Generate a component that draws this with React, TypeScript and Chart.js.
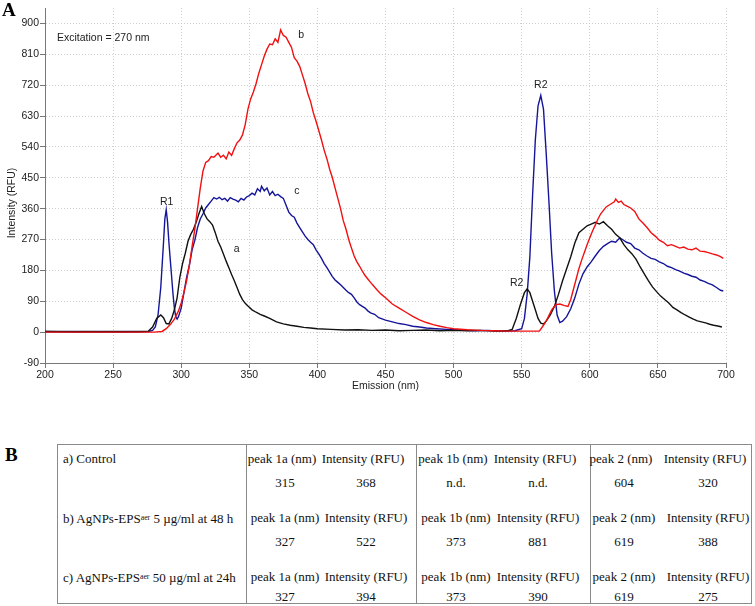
import React, { useEffect, useRef } from "react";
import { Chart, registerables } from "chart.js";
Chart.register(...registerables);

// ---------- chart data ----------
const X_TICKS = [200, 250, 300, 350, 400, 450, 500, 550, 600, 650, 700];
const Y_TICKS = [-90, 0, 90, 180, 270, 360, 450, 540, 630, 720, 810, 900];

// a) Control (black) : [emission nm, intensity RFU]
const curveA: [number, number][] = [
  [200, 2], [210, 2], [220, 1], [230, 2], [240, 1], [250, 2], [260, 1], [270, 2], [276, 3], [279, 15],
  [282, 40], [285, 50], [287, 42], [289, 25], [291, 24], [293, 40], [295, 65], [297, 100], [299, 160],
  [301, 200], [303, 230], [305, 265], [307, 285], [309, 300], [311, 320], [313, 345], [315, 366],
  [317, 345], [319, 330], [321, 322], [323, 312], [325, 290], [327, 265], [329, 248], [331, 228],
  [333, 207], [335, 188], [337, 168], [339, 150], [341, 130], [343, 110], [345, 95], [347, 84],
  [349, 76], [352, 65], [355, 58], [358, 52], [361, 47], [365, 40], [370, 30], [375, 24], [380, 20],
  [385, 17], [390, 14], [395, 12], [400, 10], [410, 8], [420, 6], [430, 7], [440, 5], [450, 6],
  [460, 4], [470, 5], [480, 6], [490, 4], [500, 5], [510, 4], [520, 5], [530, 3], [540, 4], [543, 8],
  [546, 40], [549, 80], [552, 115], [554, 126], [556, 115], [558, 90], [560, 65], [562, 40], [564, 26],
  [566, 24], [568, 32], [571, 50], [574, 75], [577, 110], [580, 150], [583, 185], [586, 220],
  [589, 260], [592, 290], [595, 300], [598, 310], [601, 315], [604, 320], [607, 315], [610, 322],
  [613, 310], [616, 300], [619, 285], [622, 275], [625, 255], [628, 240], [631, 228], [634, 212],
  [637, 190], [640, 170], [643, 150], [646, 132], [649, 118], [652, 105], [655, 95], [658, 85],
  [661, 72], [664, 65], [667, 57], [670, 50], [673, 44], [676, 38], [679, 33], [682, 30], [685, 27],
  [688, 23], [691, 20], [694, 18], [697, 15],
];

// b) AgNPs-EPSaer 5 µg/ml at 48 h (red)
const curveB: [number, number][] = [
  [200, 0], [220, 0], [240, 0], [260, 0], [280, 0], [286, 2], [289, 10], [292, 22], [295, 38],
  [298, 62], [300, 85], [302, 115], [304, 150], [306, 195], [308, 250], [310, 300], [312, 360],
  [314, 420], [316, 470], [318, 495], [320, 500], [322, 512], [324, 510], [326, 518], [327, 522],
  [329, 510], [331, 516], [333, 505], [335, 525], [337, 515], [339, 535], [341, 552], [343, 560],
  [345, 575], [347, 605], [349, 650], [351, 680], [353, 700], [355, 725], [357, 755], [359, 780],
  [361, 805], [363, 825], [365, 840], [367, 838], [369, 855], [371, 845], [373, 881], [375, 865],
  [377, 860], [379, 845], [381, 830], [383, 800], [385, 790], [387, 775], [389, 750], [391, 725],
  [393, 695], [395, 672], [397, 640], [399, 615], [401, 588], [403, 560], [405, 530], [407, 505],
  [409, 475], [411, 450], [413, 420], [415, 390], [417, 360], [419, 325], [421, 300], [423, 270],
  [425, 245], [427, 222], [429, 205], [431, 192], [433, 178], [435, 165], [437, 155], [439, 145],
  [441, 136], [444, 122], [447, 110], [450, 100], [455, 82], [460, 70], [465, 58], [470, 46],
  [475, 36], [480, 28], [485, 22], [490, 17], [495, 13], [500, 10], [510, 7], [520, 5], [530, 4],
  [540, 3], [550, 3], [560, 3], [563, 3], [566, 20], [569, 40], [572, 65], [575, 80], [578, 82],
  [581, 78], [584, 75], [586, 95], [588, 125], [590, 155], [592, 185], [594, 210], [596, 232],
  [598, 255], [600, 275], [602, 295], [604, 312], [606, 330], [608, 345], [610, 355], [612, 365],
  [614, 370], [616, 375], [618, 380], [619, 388], [621, 378], [623, 382], [625, 372], [627, 368],
  [630, 362], [633, 352], [636, 330], [639, 318], [642, 305], [645, 290], [648, 280], [651, 268],
  [654, 262], [657, 252], [660, 255], [663, 250], [666, 245], [669, 248], [672, 242], [675, 240],
  [678, 245], [681, 236], [684, 235], [687, 232], [690, 228], [693, 225], [696, 220], [698, 215],
];

// c) AgNPs-EPSaer 50 µg/ml at 24h (blue)
const curveC: [number, number][] = [
  [200, 2], [210, 1], [220, 2], [230, 1], [240, 2], [250, 1], [260, 2], [270, 1], [276, 2], [279, 5],
  [281, 15], [283, 50], [285, 130], [287, 260], [288, 330], [289, 357], [290, 320], [291, 260],
  [292, 210], [293, 160], [294, 110], [295, 70], [296, 45], [297, 38], [298, 45], [300, 70],
  [302, 115], [304, 160], [306, 195], [308, 240], [310, 268], [312, 305], [314, 330], [316, 345],
  [318, 362], [320, 372], [322, 382], [324, 392], [326, 388], [328, 393], [330, 386], [332, 390],
  [334, 382], [336, 392], [338, 388], [340, 385], [342, 380], [344, 390], [346, 385], [348, 394],
  [350, 398], [352, 405], [354, 400], [356, 418], [358, 410], [359, 425], [361, 412], [363, 420],
  [365, 400], [367, 410], [369, 398], [371, 402], [373, 395], [375, 390], [377, 370], [379, 350],
  [381, 340], [383, 335], [385, 318], [387, 305], [389, 292], [391, 280], [393, 270], [395, 262],
  [397, 255], [399, 240], [401, 228], [403, 215], [405, 200], [407, 188], [409, 175], [411, 162],
  [413, 152], [415, 145], [417, 138], [419, 130], [421, 122], [423, 115], [425, 110], [427, 100],
  [429, 88], [431, 80], [433, 75], [435, 70], [437, 62], [439, 56], [442, 52], [445, 42], [450, 35],
  [455, 30], [460, 25], [465, 22], [470, 17], [475, 15], [480, 12], [487, 10], [495, 8], [505, 6],
  [515, 4], [525, 5], [535, 3], [545, 4], [550, 10], [552, 40], [554, 110], [556, 220], [558, 400],
  [560, 560], [562, 660], [564, 690], [566, 650], [568, 520], [570, 380], [572, 230], [574, 120],
  [576, 50], [578, 28], [580, 32], [583, 45], [586, 68], [589, 100], [592, 140], [595, 170],
  [598, 190], [601, 205], [604, 222], [607, 238], [610, 250], [613, 258], [616, 265], [619, 262],
  [622, 275], [624, 270], [627, 262], [630, 258], [633, 245], [636, 240], [639, 230], [642, 222],
  [645, 215], [648, 212], [651, 205], [654, 200], [657, 192], [660, 188], [663, 182], [666, 178],
  [669, 172], [672, 168], [675, 163], [678, 160], [681, 152], [684, 148], [687, 142], [690, 138],
  [693, 130], [696, 122], [698, 120],
];

// text annotations inside the plot (data coordinates)
const NOTE_TEXT = ["Excitation = 270 nm", "b", "c", "a", "R1", "R2", "R2"];
const NOTE_X = [208.8, 388, 385, 340.7, 289.3, 564, 546.3];
const NOTE_Y = [858, 867, 411, 243, 379, 720, 143];
const NOTE_ALIGN = ["left", "center", "center", "center", "center", "center", "center"];

// ---------- table data ----------
const ROW_LABELS = ["a) Control", "b) AgNPs-EPS|aer| 5 µg/ml at 48 h", "c) AgNPs-EPS|aer| 50 µg/ml at 24h"];
const HEADERS = ["peak 1a (nm)", "Intensity (RFU)", "peak 1b (nm)", "Intensity (RFU)", "peak 2 (nm)", "Intensity (RFU)"];
const ROW_VALUES = [
  ["315", "368", "n.d.", "n.d.", "604", "320"],
  ["327", "522", "373", "881", "619", "388"],
  ["327", "394", "373", "390", "619", "275"],
];

const SANS = '"Liberation Sans", Arial, sans-serif';
const SERIF = '"Liberation Serif", "Times New Roman", serif';

const toXY = (arr: [number, number][]) => arr.map(([x, y]) => ({ x, y }));

function ChartA() {
  const ref = useRef<HTMLCanvasElement | null>(null);
  useEffect(() => {
    if (!ref.current) return;
    const notes = {
      id: "notes",
      afterDatasetsDraw(chart: any) {
        const { ctx } = chart;
        const xs = chart.scales.x;
        const ys = chart.scales.y;
        ctx.save();
        ctx.font = `10.5px ${SANS}`;
        ctx.fillStyle = "#222";
        ctx.textBaseline = "middle";
        NOTE_TEXT.forEach((t, i) => {
          ctx.textAlign = NOTE_ALIGN[i] as CanvasTextAlign;
          ctx.fillText(t, xs.getPixelForValue(NOTE_X[i]), ys.getPixelForValue(NOTE_Y[i]));
        });
        ctx.translate(12, 203);
        ctx.rotate(-Math.PI / 2);
        ctx.textAlign = "center";
        ctx.fillText("Intensity (RFU)", 0, 0);
        ctx.restore();
      },
    };
    const line = (data: [number, number][], color: string) => ({
      data: toXY(data),
      borderColor: color,
      backgroundColor: color,
      borderWidth: 1.4,
      pointRadius: 0,
      tension: 0,
      fill: false,
    });
    const chart = new Chart(ref.current, {
      type: "line",
      data: {
        datasets: [line(curveB, "#f01010"), line(curveA, "#111111"), line(curveC, "#15159a")],
      },
      options: {
        animation: false,
        responsive: false,
        devicePixelRatio: 1,
        layout: { padding: { left: 0, right: 29, top: 8, bottom: 0 } },
        plugins: { legend: { display: false }, tooltip: { enabled: false } },
        scales: {
          x: {
            type: "linear",
            min: 200,
            max: 700,
            afterBuildTicks: (s: any) => {
              s.ticks = X_TICKS.map((v) => ({ value: v }));
            },
            afterFit: (s: any) => {
              s.height = 37;
            },
            ticks: { color: "#222", font: { family: SANS, size: 10.5 }, padding: 1, maxRotation: 0 },
            grid: { color: "#cfcfcf", tickColor: "#777", tickLength: 5, lineWidth: 1 },
            border: { color: "#777", width: 1, dash: [1, 2] },
            title: {
              display: true,
              text: "Emission (nm)",
              color: "#222",
              font: { family: SANS, size: 10.5 },
              padding: { top: 0, bottom: 7.5 },
            },
          },
          y: {
            type: "linear",
            min: -90,
            max: 945,
            afterBuildTicks: (s: any) => {
              s.ticks = Y_TICKS.map((v) => ({ value: v }));
            },
            afterFit: (s: any) => {
              s.width = 45;
            },
            ticks: { color: "#222", font: { family: SANS, size: 10.5 }, padding: 1 },
            grid: { color: "#cfcfcf", tickColor: "#777", tickLength: 5, lineWidth: 1 },
            border: { color: "#777", width: 1, dash: [1, 2] },
          },
        },
      },
      plugins: [notes],
    } as any);
    return () => chart.destroy();
  }, []);
  return <canvas ref={ref} width={755} height={400} style={{ position: "absolute", left: 0, top: 0 }} />;
}

function Label({ text }: { text: string }) {
  const parts = text.split("|");
  return (
    <>
      {parts.map((p, i) =>
        i % 2 === 1 ? (
          <sup key={i} style={{ fontSize: "0.6em", verticalAlign: "0.35em" }}>
            {p}
          </sup>
        ) : (
          <span key={i}>{p}</span>
        )
      )}
    </>
  );
}

const COL_CENTERS = [285, 366, 456, 538, 624, 708];
const DIVIDERS = [246, 416, 590];
const ROW_HEAD_Y = [459, 518, 577];
const ROW_VAL_Y = [483, 542, 597];

function TableB() {
  const txt: React.CSSProperties = {
    position: "absolute",
    fontFamily: SERIF,
    fontSize: 13,
    lineHeight: "15px",
    whiteSpace: "nowrap",
    color: "#111",
  };
  return (
    <>
      <div
        style={{
          position: "absolute",
          left: 57,
          top: 444,
          width: 695,
          height: 160,
          border: "1px solid #8a8a8a",
          boxSizing: "border-box",
        }}
      />
      {DIVIDERS.map((x) => (
        <div key={x} style={{ position: "absolute", left: x, top: 444, width: 1, height: 160, background: "#8a8a8a" }} />
      ))}
      {ROW_LABELS.map((l, r) => (
        <React.Fragment key={r}>
          <div style={{ ...txt, left: 63, top: ROW_HEAD_Y[r] - 8 }}>
            <Label text={l} />
          </div>
          {HEADERS.map((h, c) => (
            <div
              key={"h" + c}
              style={{ ...txt, left: COL_CENTERS[c] - (r === 0 ? 3 : 0), top: ROW_HEAD_Y[r] - 8, transform: "translateX(-50%)" }}
            >
              {h}
            </div>
          ))}
          {ROW_VALUES[r].map((v, c) => (
            <div key={"v" + c} style={{ ...txt, left: COL_CENTERS[c], top: ROW_VAL_Y[r] - 8, transform: "translateX(-50%)" }}>
              {v}
            </div>
          ))}
        </React.Fragment>
      ))}
    </>
  );
}

export default function App() {
  return (
    <div style={{ position: "absolute", left: 0, top: 0, width: 755, height: 606, background: "#fff", overflow: "hidden" }}>
      <ChartA />
      <div style={{ position: "absolute", left: 2, top: 0, fontFamily: SERIF, fontWeight: "bold", fontSize: 19, lineHeight: "19px" }}>
        A
      </div>
      <div style={{ position: "absolute", left: 5, top: 445, fontFamily: SERIF, fontWeight: "bold", fontSize: 19, lineHeight: "19px" }}>
        B
      </div>
      <TableB />
    </div>
  );
}
